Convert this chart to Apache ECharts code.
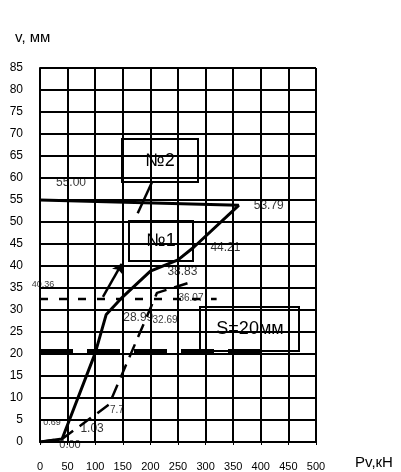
<!DOCTYPE html>
<html>
<head>
<meta charset="utf-8">
<script src="https://cdn.jsdelivr.net/npm/echarts@6/dist/echarts.min.js"></script>
<style>
  html, body { margin: 0; padding: 0; background: #fff; }
  #Settle { width: 401px; height: 472px; }
</style>
</head>
<body>
<div id="Settle"></div>
<script>
// кривая №1 (нагрузка кН / осадка мм), с разгрузкой
var load1 = [0, 40, 100, 120, 150, 200, 250, 278, 360, 0];
var settle1 = [0, 0.69, 20.2, 28.99, 33, 38.83, 41.4, 44.21, 53.79, 55.0];
// кривая №2 (штрих)
var load2 = [0, 40, 125, 212, 268];
var settle2 = [0, 0.69, 8.5, 33.9, 36.1];
// горизонтальные уровни
var levelLoad = [0, 320];
var levelValue = 32.5;
var limitLoad = [0, 400];
var limitValue = 20.7;
// подписи значений и точки, к которым они привязаны
var noteText = ['55.00', '53.79', '44.21', '38.83', '28.99', '32.69', '36.07', '40.36', '0.69', '0.00', '1.03', '7.7'];
var noteLoad = [0, 360, 278, 200, 120, 212, 268, 0, 40, 0, 40, 125];
var noteSettle = [55.0, 53.79, 44.21, 38.83, 28.99, 33.9, 36.1, 32.5, 0.69, 0, 0.69, 8.5];
// стрелки-выноски
var arrow1 = [[114, 33], [148, 40.5]];
var arrow2 = [[203, 59.1], [177, 52]];

function pairs(xs, ys) {
  return xs.map(function (x, i) { return [x, ys[i]]; });
}

// смещения подписей (px) и размер шрифта
var noteOffset = [[31, -17], [30, 0], [32, 0], [32, 1], [32, 3], [8, 27], [3, 15], [3, -14], [-10, -16], [30, 3], [30, -10], [8, 6]];
var noteSize = [12, 12, 12, 12, 12, 10, 10, 9, 9, 11, 12, 10];

var notes = noteText.map(function (t, i) {
  return {
    value: [noteLoad[i], noteSettle[i]],
    label: {
      show: true,
      formatter: t,
      position: 'inside',
      offset: noteOffset[i],
      fontSize: noteSize[i],
      color: '#000'
    }
  };
});

var font = 'Liberation Sans, Arial, sans-serif';

var Settle = echarts.init(document.getElementById('Settle'));
Settle.setOption({
  backgroundColor: '#fff',
  animation: false,
  textStyle: { fontFamily: font, color: '#000' },
  grid: { left: 40, top: 68, right: 85, bottom: 30 },
  xAxis: {
    type: 'value',
    min: 0,
    max: 500,
    interval: 50,
    axisLine: { onZero: false, lineStyle: { color: '#000', width: 2 } },
    axisTick: { show: true, length: 3, lineStyle: { color: '#000' } },
    axisLabel: { color: '#000', fontSize: 11, margin: 19 },
    splitLine: { lineStyle: { color: '#000', width: 2 } }
  },
  yAxis: {
    type: 'value',
    min: 0,
    max: 85,
    interval: 5,
    axisLine: { show: true, onZero: false, lineStyle: { color: '#000', width: 2 } },
    axisTick: { show: false },
    axisLabel: { color: '#000', fontSize: 12, margin: 17 },
    splitLine: { lineStyle: { color: '#000', width: 2 } }
  },
  series: [
    {
      name: '№1',
      type: 'line',
      data: pairs(load1, settle1),
      symbol: 'none',
      lineStyle: { color: '#000', width: 3 },
      z: 5
    },
    {
      name: '№2',
      type: 'line',
      data: pairs(load2, settle2),
      symbol: 'none',
      lineStyle: { color: '#000', width: 2.5, type: [14, 8] },
      z: 5
    },
    {
      name: 'level',
      type: 'line',
      data: pairs(levelLoad, [levelValue, levelValue]),
      symbol: 'none',
      lineStyle: { color: '#000', width: 2.5, type: [8, 11] },
      z: 4,
      markLine: {
        silent: true,
        symbol: ['none', 'none'],
        lineStyle: { color: '#000', width: 2.5, type: 'solid' },
        label: { show: false },
        data: [
          [{ coord: arrow1[0], symbol: 'none' }, { coord: arrow1[1], symbol: 'arrow', symbolSize: 9 }],
          [{ coord: arrow2[0] }, { coord: arrow2[1] }]
        ]
      }
    },
    {
      name: 'S=20',
      type: 'line',
      data: pairs(limitLoad, [limitValue, limitValue]),
      symbol: 'none',
      lineStyle: { color: '#000', width: 4, type: [33, 14] },
      z: 4
    },
    {
      name: 'notes',
      type: 'scatter',
      data: notes,
      symbolSize: 1,
      itemStyle: { color: 'rgba(0,0,0,0)' },
      z: 8
    }
  ],
  graphic: [
    { type: 'text', left: 15, top: 30, z: 100, style: { text: 'v, мм', font: '15px ' + font, fill: '#000' } },
    { type: 'text', left: 355, top: 455, z: 100, style: { text: 'Pv,кН', font: '15px ' + font, fill: '#000' } },
    {
      type: 'group', left: 121, top: 138, z: 100,
      children: [
        { type: 'rect', shape: { x: 0, y: 0, width: 76, height: 43 }, style: { fill: '#fff', stroke: '#000', lineWidth: 2 } },
        { type: 'text', x: 38, y: 22, style: { text: '№2', font: '18px ' + font, fill: '#000', align: 'center', verticalAlign: 'middle' } }
      ]
    },
    {
      type: 'group', left: 128, top: 220, z: 100,
      children: [
        { type: 'rect', shape: { x: 0, y: 0, width: 64, height: 40 }, style: { fill: '#fff', stroke: '#000', lineWidth: 2 } },
        { type: 'text', x: 32, y: 20, style: { text: '№1', font: '18px ' + font, fill: '#000', align: 'center', verticalAlign: 'middle' } }
      ]
    },
    {
      type: 'group', left: 199, top: 306, z: 100,
      children: [
        { type: 'rect', shape: { x: 0, y: 0, width: 99, height: 44 }, style: { fill: '#fff', stroke: '#000', lineWidth: 2 } },
        { type: 'text', x: 50, y: 22, style: { text: 'S=20мм', font: '18px ' + font, fill: '#000', align: 'center', verticalAlign: 'middle' } }
      ]
    }
  ]
});
</script>
</body>
</html>
